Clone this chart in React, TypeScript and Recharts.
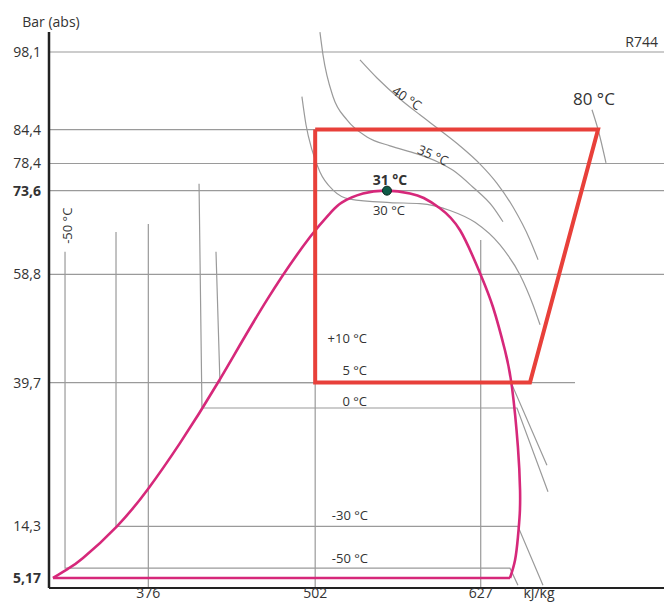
import { ComposedChart, Line, XAxis, YAxis, ReferenceDot, Scatter } from "recharts"

// pressure axis (bar abs) and enthalpy axis (kJ/kg)
const pressureTicks = [5.17, 14.3, 39.7, 58.8, 73.6, 78.4, 84.4, 98.1]
const pressureLabels = ["5,17", "14,3", "39,7", "58,8", "73,6", "78,4", "84,4", "98,1"]
const boldPressures = [5.17, 73.6]
const enthalpyTicks = [376, 502, 627, 671]
const enthalpyLabels = ["376", "502", "627", "kJ/kg"]

const H_MIN = 301
const H_MAX = 765.4
const P_MIN = 3.4
const P_MAX = 101.63

// saturation dome, bottom-left corner -> critical point -> bottom-right corner
const dome = [
  { h: 304.0, p: 5.17 },
  { h: 315.3, p: 6.8 },
  { h: 326.7, p: 8.7 },
  { h: 352.3, p: 14.3 },
  { h: 375.8, p: 20.9 },
  { h: 399.9, p: 29.0 },
  { h: 428.6, p: 39.7 },
  { h: 465.6, p: 54.3 },
  { h: 498.1, p: 65.4 },
  { h: 513.2, p: 69.6 },
  { h: 522.0, p: 71.5 },
  { h: 538.1, p: 73.1 },
  { h: 556.2, p: 73.6 },
  { h: 573.6, p: 73.1 },
  { h: 584.0, p: 72.3 },
  { h: 596.2, p: 70.5 },
  { h: 611.4, p: 66.6 },
  { h: 626.5, p: 59.0 },
  { h: 636.3, p: 53.0 },
  { h: 645.3, p: 45.4 },
  { h: 650.6, p: 38.9 },
  { h: 655.1, p: 28.3 },
  { h: 656.7, p: 20.7 },
  { h: 656.5, p: 16.6 },
  { h: 655.1, p: 12.4 },
  { h: 652.9, p: 8.3 },
  { h: 649.1, p: 5.17 },
]
const domeBase = [
  { h: 304.0, p: 5.17 },
  { h: 649.1, p: 5.17 },
]

// transcritical cycle
const cycle = [
  { h: 502, p: 84.4 },
  { h: 715.6, p: 84.4 },
  { h: 664.2, p: 39.7 },
  { h: 502, p: 39.7 },
  { h: 502, p: 84.4 },
]

// isotherms: liquid part, two-phase part, vapour part
const isoMinus50 = [
  { h: 313.1, p: 62.8 },
  { h: 313.1, p: 6.9 },
  { h: 649.1, p: 6.9 },
  { h: 655.1, p: 3.9 },
]
const isoMinus30 = [
  { h: 351.6, p: 66.3 },
  { h: 351.6, p: 14.3 },
  { h: 655.1, p: 14.3 },
  { h: 674.0, p: 3.9 },
]
const iso0 = [
  { h: 414.3, p: 74.8 },
  { h: 416.5, p: 35.2 },
  { h: 654.4, p: 35.2 },
  { h: 677.8, p: 20.4 },
]
const iso5 = [
  { h: 427.1, p: 62.8 },
  { h: 430.1, p: 39.7 },
  { h: 649.9, p: 39.7 },
  { h: 677.0, p: 25.1 },
]
const iso30 = [
  { h: 492.0, p: 90.2 },
  { h: 495.1, p: 85.2 },
  { h: 499.6, p: 80.8 },
  { h: 505.6, p: 76.9 },
  { h: 515.5, p: 73.7 },
  { h: 528.3, p: 72.1 },
  { h: 558.5, p: 71.5 },
  { h: 581.1, p: 71.3 },
  { h: 603.8, p: 70.1 },
  { h: 622.7, p: 68.0 },
  { h: 641.6, p: 64.0 },
  { h: 656.7, p: 58.7 },
  { h: 666.5, p: 53.4 },
  { h: 671.8, p: 49.9 },
]
const iso35 = [
  { h: 505.6, p: 101.6 },
  { h: 507.9, p: 97.6 },
  { h: 515.5, p: 90.2 },
  { h: 526.0, p: 86.1 },
  { h: 541.1, p: 83.1 },
  { h: 558.5, p: 81.5 },
  { h: 578.9, p: 80.1 },
  { h: 596.2, p: 78.5 },
  { h: 606.1, p: 77.2 },
  { h: 621.2, p: 74.2 },
  { h: 636.3, p: 70.7 },
  { h: 643.8, p: 68.1 },
]
const iso40 = [
  { h: 535.8, p: 96.7 },
  { h: 548.7, p: 93.5 },
  { h: 566.0, p: 89.8 },
  { h: 581.1, p: 87.0 },
  { h: 596.2, p: 84.3 },
  { h: 611.4, p: 81.5 },
  { h: 626.5, p: 78.3 },
  { h: 639.3, p: 74.9 },
  { h: 651.4, p: 70.7 },
  { h: 664.2, p: 64.9 },
  { h: 670.3, p: 61.4 },
]
const iso80 = [
  { h: 711.0, p: 87.9 },
  { h: 715.6, p: 84.4 },
  { h: 721.6, p: 78.5 },
]

// grid lines drawn only over part of the plot
const hGrid = [
  { p: 98.1, to: H_MAX },
  { p: 84.4, to: 715.6 },
  { p: 78.4, to: H_MAX },
  { p: 73.6, to: H_MAX },
  { p: 58.8, to: H_MAX },
  { p: 39.7, to: 698.2 },
]
const vGrid = [
  { h: 376, from: 67.7 },
  { h: 502, from: 84.4 },
  { h: 627, from: 64.9 },
]

const criticalPoint = { h: 556.2, p: 73.6 }

// labels placed in (h, p)
const centerNotes = [
  { h: 571.3, p: 90.0, text: "40 °C" },
  { h: 591.0, p: 79.9, text: "35 °C" },
  { h: 558.5, p: 75.5, text: "31 °C" },
  { h: 557.7, p: 70.2, text: "30 °C" },
  { h: 712.5, p: 89.6, text: "80 °C" },
]
const rightNotes = [
  { h: 541.1, p: 47.6, text: "+10 °C" },
  { h: 541.1, p: 41.9, text: "5 °C" },
  { h: 541.1, p: 36.4, text: "0 °C" },
  { h: 541.9, p: 16.3, text: "-30 °C" },
  { h: 541.9, p: 8.7, text: "-50 °C" },
]
const verticalNotes = [{ h: 314.6, p: 67.4, text: "-50 °C" }]

const noteStyle: Record<string, { angle?: number; size?: number; bold?: boolean }> = {
  "40 °C": { angle: 34 },
  "35 °C": { angle: 24 },
  "31 °C": { bold: true, size: 14 },
  "80 °C": { size: 17 },
}

const TEXT = "#333"
const GRAY = "#9a9a9a"

function PressureTick(props: any) {
  const { x, y, payload } = props
  const i = pressureTicks.indexOf(payload.value)
  return (
    <text
      x={x}
      y={y}
      dy={5}
      textAnchor="end"
      fontSize={14}
      fontWeight={boldPressures.includes(payload.value) ? 700 : 400}
      fill={TEXT}
    >
      {pressureLabels[i]}
    </text>
  )
}

function EnthalpyTick(props: any) {
  const { x, y, payload } = props
  const i = enthalpyTicks.indexOf(payload.value)
  return (
    <text x={x} y={y} dy={10} textAnchor="middle" fontSize={14} fill={TEXT}>
      {enthalpyLabels[i]}
    </text>
  )
}

const CenterNote = (props: any) => {
  const { cx, cy, payload } = props
  const s = noteStyle[payload.text] || {}
  return (
    <text
      x={cx}
      y={cy}
      dy={5}
      textAnchor="middle"
      fontSize={s.size || 13}
      fontWeight={s.bold ? 700 : 400}
      fill={TEXT}
      transform={s.angle ? `rotate(${s.angle}, ${cx}, ${cy})` : undefined}
    >
      {payload.text}
    </text>
  )
}

const RightNote = (props: any) => {
  const { cx, cy, payload } = props
  return (
    <text x={cx} y={cy} dy={5} textAnchor="end" fontSize={13} fill={TEXT}>
      {payload.text}
    </text>
  )
}

const VerticalNote = (props: any) => {
  const { cx, cy, payload } = props
  return (
    <text
      x={cx}
      y={cy}
      dy={5}
      textAnchor="middle"
      fontSize={13}
      fill={TEXT}
      transform={`rotate(-90, ${cx}, ${cy})`}
    >
      {payload.text}
    </text>
  )
}

const plain = { dot: false, activeDot: false, isAnimationActive: false, legendType: "none" as const }

export default function App() {
  return (
    <div style={{ position: "absolute", left: 0, top: 0, fontFamily: "'Open Sans', sans-serif", background: "#fff" }}>
      <ComposedChart width={664} height={605} margin={{ top: 32, right: 0, bottom: 0, left: 0 }}>
        <XAxis
          type="number"
          dataKey="h"
          domain={[H_MIN, H_MAX]}
          allowDataOverflow
          ticks={enthalpyTicks}
          interval={0}
          tickLine={false}
          tickSize={0}
          tickMargin={0}
          height={17}
          axisLine={{ stroke: "#222", strokeWidth: 2 }}
          tick={<EnthalpyTick />}
        />
        <YAxis
          type="number"
          dataKey="p"
          domain={[P_MIN, P_MAX]}
          allowDataOverflow
          ticks={pressureTicks}
          interval={0}
          width={49}
          tickLine={false}
          axisLine={{ stroke: "#222", strokeWidth: 2.5 }}
          tick={<PressureTick />}
          label={{
            content: (lp: any) => (
              <text x={lp.viewBox.x + 51} y={lp.viewBox.y - 5} textAnchor="middle" fontSize={14} fill={TEXT}>
                Bar (abs)
              </text>
            ),
          }}
        />

        {hGrid.map((g) => (
          <Line
            key={`hg-${g.p}`}
            data={[{ h: H_MIN, p: g.p }, { h: g.to, p: g.p }]}
            dataKey="p"
            type="linear"
            stroke={GRAY}
            strokeWidth={1.2}
            {...plain}
          />
        ))}
        {vGrid.map((g) => (
          <Line
            key={`vg-${g.h}`}
            data={[{ h: g.h, p: g.from }, { h: g.h, p: P_MIN }]}
            dataKey="p"
            type="linear"
            stroke={GRAY}
            strokeWidth={1.2}
            {...plain}
          />
        ))}

        {[isoMinus50, isoMinus30, iso0, iso5].map((d, i) => (
          <Line key={`iso-l-${i}`} data={d} dataKey="p" type="linear" stroke={GRAY} strokeWidth={1.2} {...plain} />
        ))}
        {[iso30, iso35, iso40, iso80].map((d, i) => (
          <Line key={`iso-c-${i}`} data={d} dataKey="p" type="monotone" stroke={GRAY} strokeWidth={1.2} {...plain} />
        ))}

        <Line data={dome} dataKey="p" type="natural" stroke="#d6287a" strokeWidth={2.6} {...plain} />
        <Line data={domeBase} dataKey="p" type="linear" stroke="#d6287a" strokeWidth={2.6} {...plain} />

        <Line
          data={cycle}
          dataKey="p"
          type="linear"
          stroke="#e8403a"
          strokeWidth={4}
          strokeLinejoin="miter"
          {...plain}
        />

        <ReferenceDot x={criticalPoint.h} y={criticalPoint.p} r={4.5} fill="#0f5a48" stroke="#07241d" strokeWidth={1} />

        <Scatter data={centerNotes} dataKey="p" shape={CenterNote} isAnimationActive={false} legendType="none" />
        <Scatter data={rightNotes} dataKey="p" shape={RightNote} isAnimationActive={false} legendType="none" />
        <Scatter data={verticalNotes} dataKey="p" shape={VerticalNote} isAnimationActive={false} legendType="none" />
        <Scatter
          data={[{ h: H_MAX, p: 98.1, text: "R744" }]}
          dataKey="p"
          isAnimationActive={false}
          legendType="none"
          shape={(props: any) => (
            <text x={props.cx - 6} y={props.cy - 5} textAnchor="end" fontSize={14} fill={TEXT}>
              {props.payload.text}
            </text>
          )}
        />
      </ComposedChart>
    </div>
  )
}
